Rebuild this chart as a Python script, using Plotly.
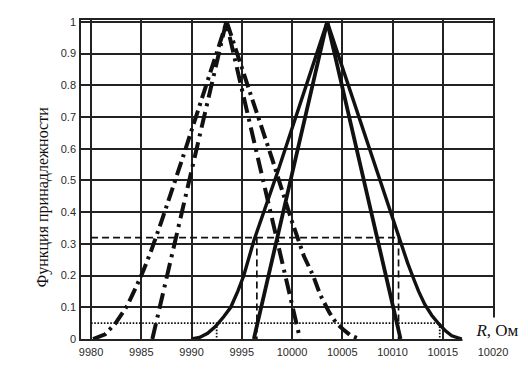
import plotly.graph_objects as go

# Wide dash-dot curve (left, with curved tails)
wdd_x = [9980.2, 9980.8, 9981.4, 9982.4, 9983.0, 9983.6, 9984.5, 9985.2, 9986.0, 9987.0,
         9989.0, 9991.0, 9993.5, 9996.0, 9998.0, 10000.0, 10001.2, 10002.1, 10002.8,
         10003.7, 10004.4, 10005.1, 10005.8, 10006.7]
wdd_y = [0.0, 0.006, 0.015, 0.048, 0.075, 0.105, 0.165, 0.215, 0.28, 0.37,
         0.56, 0.76, 1.0, 0.76, 0.57, 0.37, 0.26, 0.2, 0.14,
         0.084, 0.05, 0.03, 0.012, 0.0]

# Narrow dash-dot triangle (left)
ndd_x = [9986.1, 9993.45, 10000.8]
ndd_y = [0.0, 1.0, 0.0]

# Narrow solid triangle (right)
ns_x = [9996.2, 10003.5, 10010.8]
ns_y = [0.0, 1.0, 0.0]

# Wide solid curve (right, with curved tails)
ws_x = [9990.0, 9990.8, 9991.6, 9992.4, 9993.2, 9993.9, 9994.6, 9995.2, 9996.2, 9998.6,
        10003.5, 10008.9, 10010.9, 10011.5, 10012.1, 10012.6, 10013.2, 10013.9, 10014.6,
        10015.3, 10015.9, 10016.9]
ws_y = [0.0, 0.005, 0.018, 0.04, 0.07, 0.1, 0.15, 0.2, 0.31, 0.53,
        1.0, 0.485, 0.29, 0.24, 0.19, 0.15, 0.11, 0.075, 0.048,
        0.025, 0.01, 0.0]

# alpha-cut guide lines
cut_hi_level = 0.32
cut_hi_x = [9980.0, 10010.6]
cut_hi_left = 9996.5
cut_lo_level = 0.05
cut_lo_x = [9980.0, 10014.7]
cut_lo_left = 9992.5

x_ticks = [9980, 9985, 9990, 9995, 10000, 10005, 10010, 10015, 10020]
y_ticks = [0, 0.1, 0.2, 0.3, 0.4, 0.5, 0.6, 0.7, 0.8, 0.9, 1]
y_tick_text = ["0", "0.1", "0.2", "0.3", "0.4", "0.5", "0.6", "0.7", "0.8", "0.9", "1"]

fig = go.Figure()

fig.add_trace(go.Scatter(x=wdd_x, y=wdd_y, mode="lines",
                         line=dict(color="#111", width=4, dash="14px,5px,3px,5px")))
fig.add_trace(go.Scatter(x=ndd_x, y=ndd_y, mode="lines",
                         line=dict(color="#111", width=4, dash="16px,6px,3px,6px")))

# guide lines
fig.add_trace(go.Scatter(x=cut_hi_x, y=[cut_hi_level, cut_hi_level], mode="lines",
                         line=dict(color="#111", width=1.7, dash="7px,4px")))
fig.add_trace(go.Scatter(x=[cut_hi_left, cut_hi_left], y=[cut_hi_level, 0], mode="lines",
                         line=dict(color="#111", width=1.7, dash="7px,4px")))
fig.add_trace(go.Scatter(x=[cut_hi_x[1], cut_hi_x[1]], y=[cut_hi_level, 0], mode="lines",
                         line=dict(color="#111", width=1.7, dash="7px,4px")))
fig.add_trace(go.Scatter(x=cut_lo_x, y=[cut_lo_level, cut_lo_level], mode="lines",
                         line=dict(color="#111", width=1.8, dash="1.6px,1.6px")))
fig.add_trace(go.Scatter(x=[cut_lo_left, cut_lo_left], y=[cut_lo_level, 0], mode="lines",
                         line=dict(color="#111", width=1.8, dash="1.6px,1.6px")))
fig.add_trace(go.Scatter(x=[cut_lo_x[1], cut_lo_x[1]], y=[cut_lo_level, 0], mode="lines",
                         line=dict(color="#111", width=1.8, dash="1.6px,1.6px")))

fig.add_trace(go.Scatter(x=ws_x, y=ws_y, mode="lines",
                         line=dict(color="#111", width=3.4)))
fig.add_trace(go.Scatter(x=ns_x, y=ns_y, mode="lines",
                         line=dict(color="#111", width=3.8)))

axis_common = dict(showgrid=True, gridcolor="#222", gridwidth=1.5,
                   showline=True, linecolor="#222", linewidth=1.6, mirror=True,
                   zeroline=False, ticks="",
                   tickfont=dict(family="Liberation Sans, Arial", size=11, color="#2a2a2a"))

fig.update_xaxes(range=[9979, 10020], tickvals=x_ticks,
                 ticktext=[str(v) for v in x_ticks], ticklabelstandoff=2, **axis_common)
fig.update_yaxes(range=[0, 1.006], tickvals=y_ticks, ticktext=y_tick_text,
                 ticklabelstandoff=1, **axis_common)

fig.add_annotation(xref="paper", yref="paper", x=-0.092, y=0.444,
                   text="Функция принадлежности", textangle=-90, showarrow=False,
                   font=dict(family="Liberation Serif, Times New Roman", size=16, color="#111"),
                   xanchor="center", yanchor="middle")
fig.add_annotation(xref="paper", yref="paper", x=0.925, y=0.028,
                   text="<i>R</i>, Ом", showarrow=False, xanchor="left", yanchor="middle",
                   width=66, height=22, align="center", bgcolor="white",
                   font=dict(family="Liberation Serif, Times New Roman", size=17, color="#111"))

fig.update_layout(width=528, height=370, showlegend=False,
                  margin=dict(l=81, r=35, t=20, b=28),
                  paper_bgcolor="white", plot_bgcolor="white")

fig.write_html("out.html")
